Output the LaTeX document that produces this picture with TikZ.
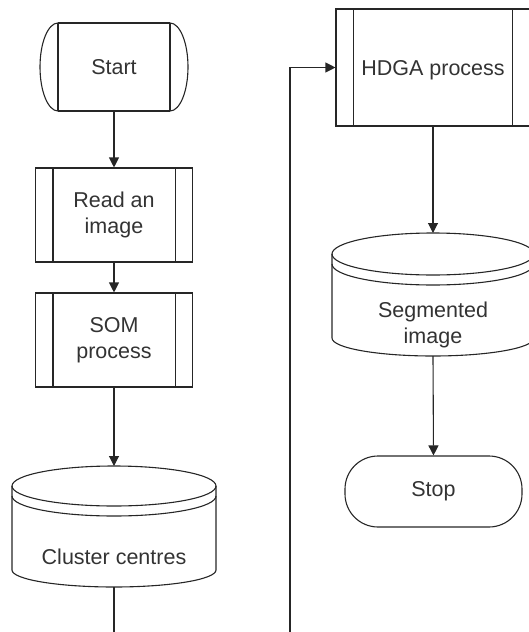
\documentclass[tikz,border=0pt]{standalone}
\usepackage{fontspec}
\setmainfont{Liberation Sans}
\usetikzlibrary{arrows.meta}
\tikzset{
  line/.style={draw=black!85, line width=1.1pt},
  conn/.style={line, -{Triangle[width=10pt,length=10pt]}},
  txt/.style={text=black!80, font=\fontsize{21.5}{26}\selectfont, align=center, inner sep=0pt},
  procbox/.style={txt, line, rectangle, minimum width=157pt, minimum height=94pt},
  shapebox/.style={inner sep=0pt, outer sep=0pt},
  stopbox/.style={txt, line, rectangle, rounded corners=33pt, minimum width=177pt, minimum height=71pt},
}
\begin{document}
\begin{tikzpicture}[x=1pt,y=1pt]
\useasboundingbox (0,0) rectangle (529,-632);
\clip (0,0) rectangle (529,-632);
% Start terminator
\node[txt, shapebox, minimum width=112pt, minimum height=88pt] (start) at (114,-67) {Start};
\draw[line] (start.north west) -- (start.north east);
\draw[line] (start.south west) -- (start.south east);
\draw[line] (start.north west) -- (start.south west);
\draw[line] (start.north east) -- (start.south east);
\draw[line] (start.north west) arc(90:270:18pt and 44pt);
\draw[line] (start.north east) arc(90:-90:18pt and 44pt);
% Read an image
\node[procbox] (read) at (114,-215) {Read an\\image};
\draw[line] ([xshift=18pt]read.north west) -- ([xshift=18pt]read.south west);
\draw[line] ([xshift=-18pt]read.north east) -- ([xshift=-18pt]read.south east);
% SOM process
\node[procbox] (som) at (114,-340) {SOM\\process};
\draw[line] ([xshift=18pt]som.north west) -- ([xshift=18pt]som.south west);
\draw[line] ([xshift=-18pt]som.north east) -- ([xshift=-18pt]som.south east);
% Cluster centres cylinder
\node[shapebox, minimum width=204pt, minimum height=121pt] (clus) at (114,-526.5) {};
\node[txt] (clustxt) at (114,-557) {Cluster centres};
\draw[line] ([yshift=-20pt]clus.north) ellipse[x radius=102pt, y radius=20pt];
\draw[line] ([yshift=-30pt]clus.north west) arc(180:360:102pt and 20pt);
\draw[line] ([yshift=-20pt]clus.north west) -- ([yshift=17pt]clus.south west)
  arc(180:360:102pt and 17pt) -- ([yshift=-20pt]clus.north east);
% HDGA process
\node[procbox, minimum width=194pt, minimum height=117pt] (hdga) at (433,-67.5) {};
\node[txt] (hdgatxt) at (433,-70) {HDGA process};
\draw[line] ([xshift=18pt]hdga.north west) -- ([xshift=18pt]hdga.south west);
\draw[line] ([xshift=-18pt]hdga.north east) -- ([xshift=-18pt]hdga.south east);
% Segmented image cylinder
\node[shapebox, minimum width=202pt, minimum height=123pt] (seg) at (433,-294.5) {};
\node[txt] (segtxt) at (433,-324.5) {Segmented\\image};
\draw[line] ([yshift=-21pt]seg.north) ellipse[x radius=101pt, y radius=21pt];
\draw[line] ([yshift=-31pt]seg.north west) arc(180:360:101pt and 21pt);
\draw[line] ([yshift=-21pt]seg.north west) -- ([yshift=18pt]seg.south west)
  arc(180:360:101pt and 18pt) -- ([yshift=-21pt]seg.north east);
% Stop
\node[stopbox] (stop) at (433.5,-491.5) {Stop};
% connectors
\coordinate (c1) at (114,-650);
\coordinate (c2) at (290,-650);
\coordinate (c3) at (290,-67.5);
\draw[conn] (start.south) -- (read.north);
\draw[conn] (read) -- (som);
\draw[conn] (som) -- (clus.north);
\draw[conn] (clus.south) -- (c1) -- (c2) -- (c3) -- (hdga.west);
\draw[conn] (hdga.south) -- (seg.north);
\draw[conn] (seg.south) -- (stop.north);
\end{tikzpicture}
\end{document}
